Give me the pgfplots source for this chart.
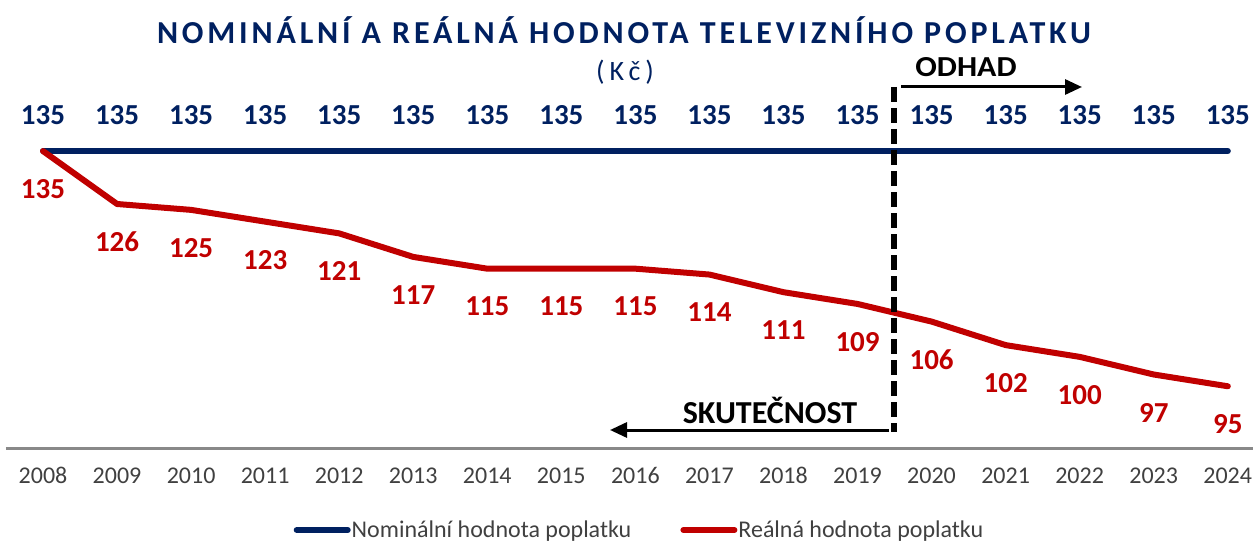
\documentclass[border=0pt]{standalone}
\usepackage{fontspec}
\setmainfont{Carlito}
\usepackage{graphicx}
\usepackage{pgfplots}
\pgfplotsset{compat=1.18}
\usetikzlibrary{arrows.meta}
\definecolor{nblue}{HTML}{002060}
\definecolor{rred}{HTML}{C00000}
\definecolor{tgray}{HTML}{404040}
\definecolor{agray}{HTML}{898989}
\begin{document}
\begin{tikzpicture}[x=1pt,y=1pt]
\path[use as bounding box] (0,0) rectangle (1253,542);
\begin{axis}[
  at={(6pt,94pt)}, anchor=south west,
  scale only axis, width=1247pt, height=368pt,
  xmin=2007.5, xmax=2024.34, ymin=84.5, ymax=147.09,
  clip=false,
  axis y line=none, axis x line*=bottom,
  x axis line style={draw=agray, line width=3pt},
  xtick={2008,...,2024},
  xticklabels={2008,2009,2010,2011,2012,2013,2014,2015,2016,2017,2018,2019,2020,2021,2022,2023,2024},
  major tick length=0pt,
  xticklabel style={font=\fontsize{24}{28}\selectfont, text=tgray, yshift=-16pt},
  legend style={at={(0.5076,-0.2228)}, anchor=center, draw=none, fill=none,
    legend columns=2, font=\fontsize{24}{28}\selectfont, text=tgray,
    nodes={inner sep=1pt},
    /tikz/every even column/.append style={column sep=48pt}},
  legend image code/.code={\draw[#1, line cap=round] (3pt,0pt) -- (54pt,0pt);},
]
\addplot[nblue, line width=6pt, line cap=round,
  nodes near coords={\pgfmathprintnumber[assume math mode=true, precision=0]{\pgfplotspointmeta}},
  every node near coord/.append style={anchor=center, yshift=36pt,
    font=\fontsize{29}{32}\selectfont\bfseries, text=nblue}]
  coordinates {(2008,135)(2009,135)(2010,135)(2011,135)(2012,135)(2013,135)(2014,135)(2015,135)(2016,135)(2017,135)(2018,135)(2019,135)(2020,135)(2021,135)(2022,135)(2023,135)(2024,135)};
\addlegendentry{Nominální hodnota poplatku}
\addplot[rred, line width=6pt, line cap=round, line join=round,
  nodes near coords={\pgfmathprintnumber[assume math mode=true, precision=0]{\pgfplotspointmeta}},
  every node near coord/.append style={anchor=center, yshift=-38pt,
    font=\fontsize{29}{32}\selectfont\bfseries, text=rred}]
  coordinates {(2008,135)(2009,126)(2010,125)(2011,123)(2012,121)(2013,117)(2014,115)(2015,115)(2016,115)(2017,114)(2018,111)(2019,109)(2020,106)(2021,102)(2022,100)(2023,97)(2024,95)};
\addlegendentry{Reálná hodnota poplatku}
\end{axis}
% annotations
\draw[black, line width=6pt, dash pattern=on 15pt off 6pt] (894,455) -- (894,110);
\draw[black, line width=3pt, -{Triangle[length=17pt,width=15pt]}] (901,455) -- (1082,455);
\draw[black, line width=3pt, -{Triangle[length=17pt,width=15pt]}] (889,112) -- (610,112);
\node[font=\fontsize{29}{32}\selectfont\bfseries] at (966,475) {\scalebox{1.1}[1]{ODHAD}};
\node[font=\fontsize{32}{36}\selectfont\bfseries] at (770,132) {SKUTEČNOST};
% title
\node[font=\fontsize{32}{36}\selectfont\bfseries\addfontfeatures{LetterSpace=12}, text=nblue] at (624,512) {NOMINÁLNÍ A REÁLNÁ HODNOTA TELEVIZNÍHO POPLATKU};
\node[font=\fontsize{28}{32}\selectfont\addfontfeatures{LetterSpace=18}, text=nblue] at (625,470) {(Kč)};
\end{tikzpicture}
\end{document}
